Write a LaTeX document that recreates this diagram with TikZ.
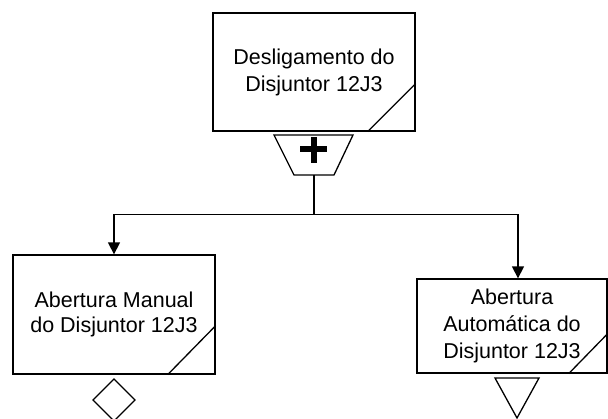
\documentclass[tikz,border=0pt]{standalone}
\usepackage{fontspec}
\setmainfont{Liberation Sans}
\usetikzlibrary{arrows.meta}
\begin{document}
\begin{tikzpicture}[x=1pt,y=-1pt,
  box/.style={draw=black,line width=1.3pt,fill=white,align=center,inner sep=0pt,
    font=\fontsize{21.5}{27}\selectfont},
  conn/.style={line width=1.3pt,draw=black},
  arr/.style={conn,-{Triangle[width=12pt,length=12pt]}},
  symb/.style={draw=black,line width=1.3pt,fill=white,line join=miter}]
\useasboundingbox[fill=white] (0,0) rectangle (608,418);
% boxes
\node[box,minimum width=202pt,minimum height=118pt] (top) at (314,72) {Desligamento do\\Disjuntor 12J3};
\node[box,minimum width=202pt,minimum height=119pt,font=\fontsize{21.5}{25}\selectfont] (left) at (114,314.5) {Abertura Manual\\do Disjuntor 12J3};
\node[box,minimum width=190pt,minimum height=94pt] (right) at (512,326) {Abertura\\Automática do\\Disjuntor 12J3};
% corner diagonals
\draw[conn] ([yshift=48pt]top.south east) -- ([xshift=-48pt]top.south east);
\draw[conn] ([yshift=49pt]left.south east) -- ([xshift=-48pt]left.south east);
\draw[conn] ([yshift=40pt]right.south east) -- ([xshift=-39pt]right.south east);
% OR gate (trapezoid with plus)
\draw[symb] (274,135) -- (353,135) -- (334,175) -- (294,175) -- cycle;
\coordinate (gateb) at (314,175);
\fill[black] (300,146) rectangle (327,152);
\fill[black] (310.5,137) rectangle (316.5,163);
% connectors
\coordinate (bus) at (314,214.5);
\draw[conn] (gateb) -- (bus);
\draw[arr] (bus) -| (left.north);
\draw[arr] (bus) -| ([xshift=6pt]right.north);
% diamond under left box
\draw[symb] (114,379) -- (135,400) -- (114,421) -- (93,400) -- cycle;
% inverted triangle under right box
\draw[symb] (495,378) -- (539,378) -- (517,418) -- cycle;
\end{tikzpicture}
\end{document}
